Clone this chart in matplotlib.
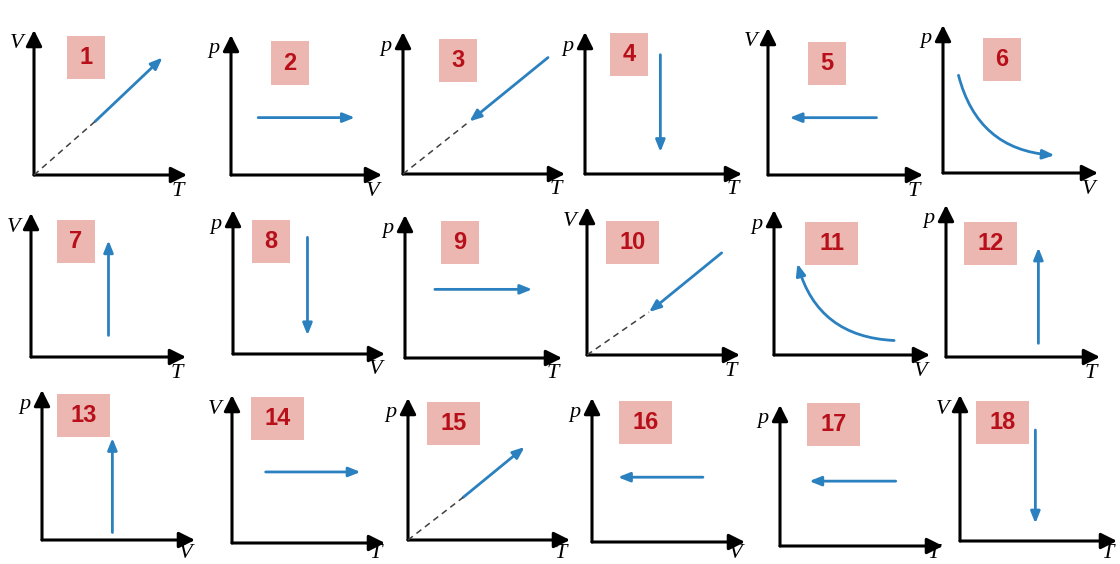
import matplotlib
matplotlib.use("Agg")
import matplotlib.pyplot as plt
from matplotlib.patches import FancyArrowPatch, Rectangle

# 18 little process diagrams (p-V, p-T, V-T)
numbers = list(range(1, 19))
y_labels = ['V', 'p', 'p', 'p', 'V', 'p', 'V', 'p', 'p', 'V', 'p', 'p', 'p', 'V', 'p', 'p', 'p', 'V']
x_labels = ['T', 'V', 'T', 'T', 'T', 'V', 'T', 'V', 'T', 'T', 'V', 'T', 'V', 'T', 'T', 'V', 'T', 'T']

# process arrow: start -> end, in fractions of the panel axes
starts = [(0.40, 0.37), (0.18, 0.41), (0.895, 0.82), (0.48, 0.84), (0.70, 0.39), (0.10, 0.66),
          (0.50, 0.15), (0.49, 0.81), (0.19, 0.48), (0.88, 0.69), (0.77, 0.10), (0.60, 0.09),
          (0.46, 0.05), (0.22, 0.48), (0.34, 0.30), (0.725, 0.45), (0.71, 0.46), (0.48, 0.76)]
ends = [(0.84, 0.81), (0.82, 0.41), (0.41, 0.37), (0.48, 0.155), (0.14, 0.39), (0.72, 0.12),
        (0.50, 0.81), (0.49, 0.13), (0.81, 0.48), (0.405, 0.29), (0.15, 0.63), (0.60, 0.72),
        (0.46, 0.68), (0.84, 0.48), (0.72, 0.655), (0.17, 0.45), (0.18, 0.46), (0.48, 0.12)]
# curvature of the process line (0 = straight)
curves = [0, 0, 0, 0, 0, 0.36, 0, 0, 0, 0, -0.36, 0, 0, 0, 0, 0, 0, 0]
# dashed extension back to origin: end point of the dashed segment (None = no dash)
dashed_to = [(0.40, 0.37), None, (0.41, 0.37), None, None, None,
             None, None, None, (0.405, 0.29), None, None,
             None, None, (0.34, 0.30), None, None, None]
# number tag centres, fraction of panel
tag_pos = [(0.34, 0.81), (0.39, 0.80), (0.34, 0.80), (0.28, 0.845), (0.38, 0.76), (0.38, 0.77),
           (0.29, 0.80), (0.25, 0.78), (0.35, 0.81), (0.30, 0.76), (0.37, 0.77), (0.29, 0.75),
           (0.27, 0.83), (0.30, 0.84), (0.28, 0.82), (0.35, 0.83), (0.33, 0.865), (0.27, 0.81)]

# panel origin (px from left, px from top), width, height in px
panels = [(34, 175, 153, 145), (231, 175, 151, 140), (403, 174, 162, 142), (585, 174, 157, 142),
          (768, 175, 155, 147), (943, 173, 155, 148),
          (31, 357, 155, 144), (233, 354, 152, 144), (405, 358, 157, 143), (587, 355, 153, 148),
          (774, 355, 156, 145), (946, 357, 154, 152),
          (42, 540, 153, 150), (232, 543, 153, 148), (408, 540, 162, 142), (592, 542, 153, 144),
          (780, 546, 163, 141), (960, 541, 157, 146)]

W, H = 1120, 564
blue = '#2b80bf'
fig = plt.figure(figsize=(W / 100, H / 100), dpi=100)
fig.patch.set_facecolor('white')

for i in range(18):
    ox, oy, w, h = panels[i]
    ax = fig.add_axes([ox / W, (H - oy) / H, w / W, h / H])
    ax.set_xlim(0, 1)
    ax.set_ylim(0, 1)
    ax.axis('off')

    # axes with arrow heads
    for end in [(1, 0), (0, 1)]:
        ax.add_patch(FancyArrowPatch((0, 0), end, arrowstyle='-|>,head_length=0.6,head_width=0.3',
                                     mutation_scale=16, color='black', lw=2.2,
                                     shrinkA=0, shrinkB=0, clip_on=False))
    ax.annotate(y_labels[i], (0, 1), xycoords='axes fraction', xytext=(-17, -14),
                textcoords='offset pixels', ha='center', va='center', fontsize=16,
                family='Liberation Serif', style='italic')
    ylab_off = -min(16, H - 10 - oy)
    ax.annotate(x_labels[i], (1, 0), xycoords='axes fraction', xytext=(-9, ylab_off),
                textcoords='offset pixels', ha='center', va='center', fontsize=16,
                family='Liberation Serif', style='italic')

    if dashed_to[i] is not None:
        dx, dy = dashed_to[i]
        ax.plot([0, dx], [0, dy], color='#404040', lw=1.1, dashes=(4, 3), clip_on=False)

    ax.add_patch(FancyArrowPatch(starts[i], ends[i],
                                 connectionstyle='arc3,rad=%g' % curves[i],
                                 arrowstyle='-|>,head_length=0.5,head_width=0.2',
                                 mutation_scale=14, color=blue, lw=2.0,
                                 shrinkA=0, shrinkB=0, clip_on=False))

    # number tag
    fx, fy = tag_pos[i]
    bw = 38 if numbers[i] < 10 else 53
    bh = 43
    cx = ox + fx * w
    cy = oy - fy * h
    fig.patches.append(Rectangle(((cx - bw / 2) / W, (H - cy - bh / 2) / H), bw / W, bh / H,
                                 transform=fig.transFigure, facecolor='#ebb7b0',
                                 edgecolor='none', zorder=0))
    fig.text(cx / W, (H - cy) / H, str(numbers[i]), ha='center', va='center', fontsize=17,
             fontweight='bold', color='#b8101a', family='Liberation Sans')

fig.savefig('out.png', dpi=100)
